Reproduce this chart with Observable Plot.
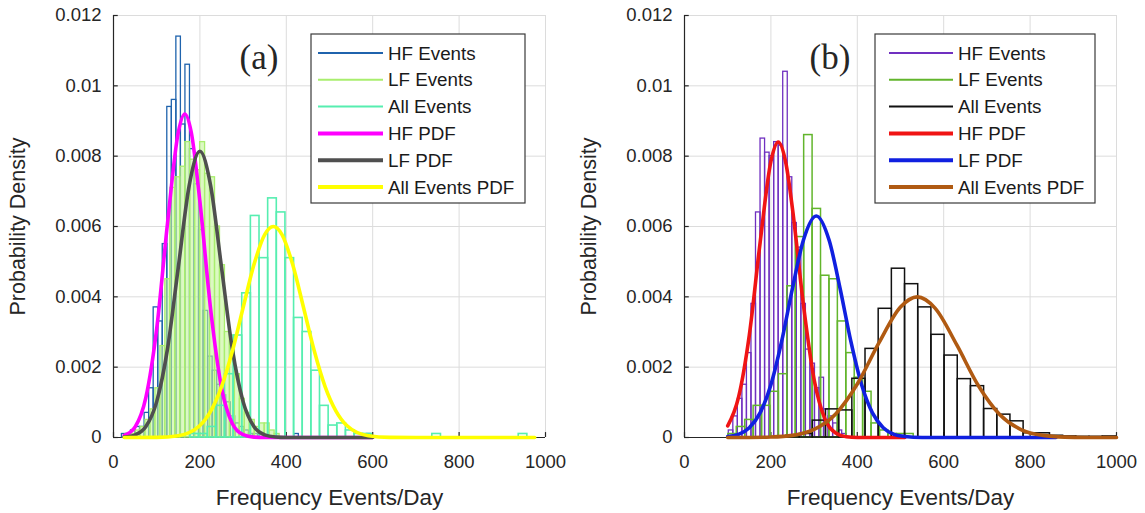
<!DOCTYPE html>
<html><head><meta charset="utf-8">
<script src="https://cdn.jsdelivr.net/npm/d3@7"></script>
<script src="https://cdn.jsdelivr.net/npm/@observablehq/plot@0.6"></script>
<style>
html,body{margin:0;padding:0;background:#fff;}
#wrap{display:flex;width:1145px;height:513px;overflow:hidden;}
</style></head><body><div id="wrap"></div>
<script>
// ---------- shared axis data ----------
const xTicks = [0, 200, 400, 600, 800, 1000];
const yTicks = [0, 0.002, 0.004, 0.006, 0.008, 0.01, 0.012];
const yTickLabels = ["0", "0.002", "0.004", "0.006", "0.008", "0.01", "0.012"];
const xLabel = "Frequency Events/Day";
const yLabel = "Probability Density";
const legendLabels = ["HF Events", "LF Events", "All Events", "HF PDF", "LF PDF", "All Events PDF"];
const panelLabels = ["(a)", "(b)"];

// ---------- panel (a) histograms ----------
const aHFStart = 19.5, aHFWidth = 10.5;
const aHFDensity = [0.0001,0.0001,0.0002,0.0003,0.0003,0.0007,0.0014,0.0037,0.0033,0.0055,
  0.0094,0.0096,0.0114,0.0089,0.0106,0.0082,0.0072,0.0059,0.0036,0.0023,
  0.0019,0.0015,0.0012,0.0010,0.0006,0.0004,0.0003,0.0002,0.0001,0.0001,
  0,0,0,0,0,0,0,0,0.0001,0,0,0,0,0,0,0,0,0,0,0,0,0,0,0,0.0001];
const aLFStart = 28, aLFWidth = 11.5;
const aLFDensity = [0.0001,0.0001,0.0002,0.0003,0.0005,0.0008,0.0014,0.0026,0.0045,0.0071,
  0.0074,0.0077,0.0084,0.0079,0.0076,0.0084,0.0075,0.0074,0.0060,0.0049,
  0.0030,0.0029,0.0018,0.0011,0.0007,0.0005,0.0003,0.0004,0.0004,0.0002,0.0001];
const aAllStart = 178, aAllWidth = 20;
const aAllDensity = [0.0001,0.0001,0.0003,0.0009,0.0018,0.0029,0.0041,0.0063,0.0051,0.0068,
  0.0064,0.0051,0.0034,0.0030,0.0019,0.0009,0.00034,0.0004,0.0002,0.0001,
  0.0001,0,0,0,0,0,0,0,0.0001,0,0,0,0,0,0,0,0,0,0.0001];

// ---------- panel (a) fitted PDFs ----------
const aHFPdfX = [25,50,75,100,125,150,165,180,200,225,250,275,300,325,350,400,500,600];
const aHFPdfY = [0.00006,0.0003,0.00114,0.00309,0.00609,0.00868,0.0092,0.00868,0.00671,0.00363,0.00142,0.0004,0.00008,0.00001,0,0,0,0];
const aLFPdfX = [25,50,75,100,125,150,175,200,225,250,275,300,325,350,375,400,500,600];
const aLFPdfY = [0.000014,0.000075,0.00031,0.00102,0.00252,0.00484,0.00715,0.00814,0.00715,0.00484,0.00252,0.00102,0.00031,0.000075,0.000014,0,0,0];
const aAllPdfX = [25,100,150,200,225,250,275,300,325,350,370,390,415,440,465,490,515,540,590,640,700,975];
const aAllPdfY = [0,0.000004,0.00005,0.00034,0.00075,0.00144,0.00245,0.00369,0.00491,0.00577,0.006,0.00577,0.00491,0.00369,0.00245,0.00144,0.00075,0.00034,0.00005,0.000004,0,0];

// ---------- panel (b) histograms ----------
const bHFStart = 102.5, bHFWidth = 10.5;
const bHFDensity = [0.0002,0.0006,0.0011,0.0015,0.0024,0.0038,0.0064,0.0085,0.0081,0.0080,
  0.0084,0.0083,0.0104,0.0074,0.0061,0.0054,0.0038,0.0025,0.0021,0.0014,
  0.0017,0.0008,0.0006,0.0004,0.0002,0.0001];
const bLFStart = 101.5, bLFWidth = 19.5;
const bLFDensity = [0.0001,0.0003,0.0005,0.0009,0.0009,0.0013,0.0018,0.0043,0.0057,0.0086,
  0.0065,0.0046,0.0045,0.0033,0.0024,0.0017,0.0013,0.0004,0.0002,0.0001,0.0001,0.0001];
const bAllStart = 236, bAllWidth = 30.5;
const bAllDensity = [0.00005,0.0001,0.00048,0.0008,0.00077,0.00167,0.00252,0.00366,0.0048,0.00436,
  0.0037,0.00292,0.00233,0.00166,0.00146,0.00081,0.00065,0.00046,0.00012,0.00012,
  0.00005,0.00003,0.00002,0.00002,0.00003];

// ---------- panel (b) fitted PDFs ----------
const bHFPdfX = [100,125,150,175,200,217,235,250,275,300,325,350,375,400,510];
const bHFPdfY = [0.00033,0.00114,0.00291,0.00554,0.00785,0.0084,0.00778,0.0065,0.0038,0.00165,0.00053,0.00013,0.00002,0,0];
const bLFPdfX = [100,125,150,175,200,225,250,275,305,335,360,385,410,435,460,485,510,550,860];
const bLFPdfY = [0.00003,0.00009,0.00028,0.0007,0.0015,0.00274,0.00425,0.0056,0.0063,0.0056,0.00425,0.00274,0.0015,0.0007,0.00028,0.00009,0.00003,0,0];
const bAllPdfX = [100,150,200,250,300,350,400,450,500,539,580,630,680,730,780,830,880,930,1000];
const bAllPdfY = [0,0.000002,0.000013,0.00006,0.00023,0.00067,0.00152,0.00269,0.00371,0.004,0.00368,0.00264,0.00148,0.00065,0.00022,0.00006,0.000012,0.000002,0];

// ---------- helpers ----------
function bins(start, width, dens) {
  return dens.map((d, i) => ({x1: start + i * width, x2: start + (i + 1) * width, y: d})).filter(r => r.y > 0);
}
function pts(xs, ys) { return xs.map((x, i) => ({x, y: ys[i]})); }

const FONT = "'Liberation Sans', Arial, Helvetica, sans-serif";
const AX = "#262626";

function panel(cfg) {
  const marks = [
    Plot.gridX(xTicks, {stroke: "#dcdcdc", strokeOpacity: 1, strokeWidth: 1}),
    Plot.gridY(yTicks, {stroke: "#dcdcdc", strokeOpacity: 1, strokeWidth: 1}),
    Plot.ruleY([0], {stroke: AX, strokeWidth: 1.2}),
    Plot.ruleX([0], {stroke: AX, strokeWidth: 1.2}),
    Plot.ruleX(xTicks, {y1: 0, y2: 0.00014, stroke: AX, strokeWidth: 1.2}),
    Plot.ruleY(yTicks, {x1: 0, x2: 11, stroke: AX, strokeWidth: 1.2}),
  ];
  cfg.hists.forEach(h => {
    marks.push(Plot.rect(bins(h.start, h.width, h.dens), {
      x1: "x1", x2: "x2", y1: 0, y2: "y",
      fill: h.fill || "none", fillOpacity: h.fillOpacity || 0,
      stroke: h.color, strokeWidth: h.sw || 1.3
    }));
  });
  cfg.pdfs.forEach(p => {
    marks.push(Plot.line(pts(p.x, p.y), {x: "x", y: "y", stroke: p.color, strokeWidth: 3.6, curve: "monotone-x"}));
  });
  marks.push(
    Plot.axisX(xTicks, {tickSize: 0, tickPadding: 17, label: null, fontSize: 18.5, tickFormat: d => String(d)}),
    Plot.axisY(yTicks, {tickSize: 0, tickPadding: 12, label: null, fontSize: 18.5, tickFormat: d => yTickLabels[yTicks.indexOf(d)]}),
    Plot.text([xLabel], {frameAnchor: "bottom", lineAnchor: "middle", textAnchor: "middle", dy: 60, fontSize: 22.5, text: d => d}),
    Plot.text([yLabel], {frameAnchor: "left", lineAnchor: "middle", textAnchor: "middle", rotate: -90, dx: -95, fontSize: 21.5, text: d => d}),
    Plot.text([cfg.label], {frameAnchor: "top-left", lineAnchor: "middle", textAnchor: "start", dx: cfg.labelDx, dy: 42, fontSize: 35, fontFamily: "'Liberation Serif', 'Times New Roman', serif", text: d => d})
  );
  const fig = Plot.plot({
    width: 572, height: 513,
    marginLeft: cfg.ml, marginRight: cfg.mr, marginTop: 15, marginBottom: 76,
    x: {domain: [0, 1000], axis: null},
    y: {domain: [0, 0.012], axis: null},
    style: {fontFamily: FONT, fontSize: "18px", color: AX, background: "white", overflow: "visible"},
    marks
  });
  // legend box
  const svg = d3.select(fig);
  const L = cfg.legend;
  const g = svg.append("g").attr("text-anchor", "start");
  g.append("rect").attr("x", L.x).attr("y", L.y).attr("width", L.w).attr("height", L.h)
    .attr("fill", "white").attr("stroke", "#3a3a3a").attr("stroke-width", 1.2);
  legendLabels.forEach((lab, i) => {
    const yy = L.y + 19 + i * 26.8;
    g.append("line").attr("x1", L.sx1).attr("x2", L.sx2).attr("y1", yy).attr("y2", yy)
      .attr("stroke", cfg.legendColors[i]).attr("stroke-width", i < 3 ? 2 : 4);
    g.append("text").attr("x", L.tx).attr("y", yy).attr("dy", "0.35em").attr("text-anchor", "start")
      .attr("font-size", 18.8).attr("font-family", FONT).attr("fill", "#1a1a1a").text(lab);
  });
  return fig;
}

const figA = panel({
  ml: 113, mr: 27, label: panelLabels[0], labelDx: 126,
  hists: [
    {start: aHFStart, width: aHFWidth, dens: aHFDensity, color: "#1f63ad"},
    {start: aLFStart, width: aLFWidth, dens: aLFDensity, color: "#a9ee6e", fill: "#c4f59a", fillOpacity: 0.6},
    {start: aAllStart, width: aAllWidth, dens: aAllDensity, color: "#56eeb0", sw: 1.6}
  ],
  pdfs: [
    {x: aHFPdfX, y: aHFPdfY, color: "#ff00ff"},
    {x: aLFPdfX, y: aLFPdfY, color: "#4f4f4f"},
    {x: aAllPdfX, y: aAllPdfY, color: "#ffff00"}
  ],
  legendColors: ["#1f63ad", "#a9ee6e", "#56eeb0", "#ff00ff", "#4f4f4f", "#ffff00"],
  legend: {x: 311, y: 34, w: 214, h: 169, sx1: 318, sx2: 383, tx: 388}
});
const figB = panel({
  ml: 112, mr: 28, label: panelLabels[1], labelDx: 125,
  hists: [
    {start: bHFStart, width: bHFWidth, dens: bHFDensity, color: "#7030c0"},
    {start: bLFStart, width: bLFWidth, dens: bLFDensity, color: "#62b52c", sw: 1.5},
    {start: bAllStart, width: bAllWidth, dens: bAllDensity, color: "#111111", sw: 1.5}
  ],
  pdfs: [
    {x: bHFPdfX, y: bHFPdfY, color: "#f01414"},
    {x: bLFPdfX, y: bLFPdfY, color: "#1020e0"},
    {x: bAllPdfX, y: bAllPdfY, color: "#b05a12"}
  ],
  legendColors: ["#7030c0", "#62b52c", "#111111", "#f01414", "#1020e0", "#b05a12"],
  legend: {x: 303, y: 34, w: 220, h: 169, sx1: 317, sx2: 381, tx: 386}
});
document.getElementById("wrap").append(figA, figB);
</script>
</body></html>
